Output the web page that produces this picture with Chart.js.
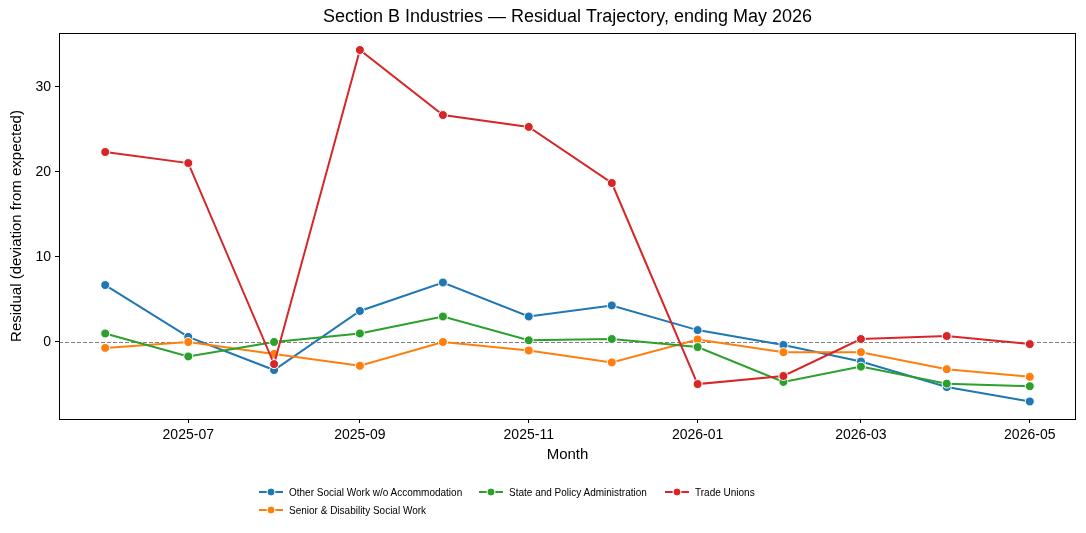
<!DOCTYPE html>
<html>
<head>
<meta charset="utf-8">
<script src="https://cdn.jsdelivr.net/npm/chart.js@4.4.1/dist/chart.umd.min.js"></script>
<style>
  body { margin: 0; background: #fff; font-family: "Liberation Sans", Arial, sans-serif; }
  #wrap { position: relative; width: 1086px; height: 533px; }
  #legend {
    position: absolute; left: 259px; top: 483px;
    display: grid; grid-template-columns: 220px 186px auto; grid-template-rows: 18px 18px;
    font-size: 10px; color: #000;
  }
  .item { display: flex; align-items: center; white-space: nowrap; }
  .item svg { margin-right: 6px; }
</style>
</head>
<body>
<div id="wrap">
  <canvas id="chart" width="1086" height="533"></canvas>
  <div id="legend"></div>
</div>
<script>
const MONTHS = ['2025-06', '2025-07', '2025-08', '2025-09', '2025-10', '2025-11',
  '2025-12', '2026-01', '2026-02', '2026-03', '2026-04', '2026-05'];
const X_TICKS = ['2025-07', '2025-09', '2025-11', '2026-01', '2026-03', '2026-05'];
const Y_TICKS = [0, 10, 20, 30];

const SERIES_NAMES = ['Other Social Work w/o Accommodation', 'Senior & Disability Social Work',
  'State and Policy Administration', 'Trade Unions'];
const COLORS = ['#1f77b4', '#ff7f0e', '#2ca02c', '#d62728'];
// legend slots [column, row], matplotlib ncol=3 fills column-wise
const LEGEND_SLOTS = [[1, 1], [1, 2], [2, 1], [3, 1]];

const otherSocial = [6.7, 0.6, -3.3, 3.65, 7.0, 3.0, 4.3, 1.4, -0.35, -2.3, -5.3, -7.0];
const seniorDisability = [-0.7, 0.0, -1.4, -2.8, 0.0, -1.0, -2.4, 0.3, -1.2, -1.2, -3.2, -4.1];
const statePolicy = [1.0, -1.7, 0.0, 1.0, 3.0, 0.2, 0.35, -0.6, -4.7, -2.9, -4.9, -5.2];
const tradeUnions = [22.35, 21.05, -2.6, 34.35, 26.7, 25.3, 18.7, -4.95, -4.0, 0.35, 0.7, -0.25];
const SERIES = [otherSocial, seniorDisability, statePolicy, tradeUnions];

const DAY = 86400000;
function dayOf(ym) {
  const [y, m] = ym.split('-').map(Number);
  return Date.UTC(y, m - 1, 1) / DAY;
}
function labelOf(d) {
  const dt = new Date(Math.round(d) * DAY);
  return dt.getUTCFullYear() + '-' + String(dt.getUTCMonth() + 1).padStart(2, '0');
}

const xs = MONTHS.map(dayOf);
const span = xs[xs.length - 1] - xs[0];
const FONT = '"Liberation Sans", Arial, sans-serif';

const frame = {
  id: 'frame',
  beforeDatasetsDraw(chart) {
    const { ctx, chartArea: a, scales } = chart;
    const y0 = Math.round(scales.y.getPixelForValue(0)) + 0.5;
    ctx.save();
    ctx.strokeStyle = '#808080';
    ctx.lineWidth = 1;
    ctx.setLineDash([4, 2]);
    ctx.beginPath();
    ctx.moveTo(a.left, y0);
    ctx.lineTo(a.right, y0);
    ctx.stroke();
    ctx.restore();
  },
  afterDraw(chart) {
    const { ctx, chartArea: a } = chart;
    ctx.save();
    ctx.strokeStyle = '#000';
    ctx.lineWidth = 1;
    ctx.strokeRect(Math.round(a.left) + 0.5, Math.round(a.top) + 0.5,
      Math.round(a.right - a.left) - 1, Math.round(a.bottom - a.top));
    ctx.restore();
  }
};

new Chart(document.getElementById('chart'), {
  type: 'line',
  data: {
    datasets: SERIES.map((vals, i) => ({
      label: SERIES_NAMES[i],
      data: vals.map((v, j) => ({ x: xs[j], y: v })),
      borderColor: COLORS[i],
      backgroundColor: COLORS[i],
      pointBackgroundColor: COLORS[i],
      pointBorderColor: '#fff',
      pointBorderWidth: 1,
      pointRadius: 4.5,
      borderWidth: 2,
      tension: 0,
      order: SERIES.length - i
    }))
  },
  plugins: [frame],
  options: {
    responsive: false,
    animation: false,
    devicePixelRatio: 1,
    layout: { padding: { left: 0, right: 10, top: 0, bottom: 69 } },
    plugins: {
      legend: { display: false },
      tooltip: { enabled: false },
      title: {
        display: true,
        fullSize: false,
        text: 'Section B Industries — Residual Trajectory, ending May 2026',
        color: '#000',
        font: { family: FONT, size: 18, weight: 'normal', lineHeight: 1.2 },
        padding: { top: 6, bottom: 5.4 }
      }
    },
    scales: {
      x: {
        type: 'linear',
        min: xs[0] - span * 0.05,
        max: xs[xs.length - 1] + span * 0.05,
        afterBuildTicks(scale) { scale.ticks = X_TICKS.map(t => ({ value: dayOf(t) })); },
        afterFit(scale) { scale.height = 45; },
        ticks: {
          color: '#000', padding: 4, maxRotation: 0, autoSkip: false,
          font: { family: FONT, size: 14 },
          callback: v => labelOf(v)
        },
        grid: { drawOnChartArea: false, drawTicks: true, tickLength: 4, color: '#000' },
        border: { display: false },
        title: { display: true, text: 'Month', color: '#000',
          font: { family: FONT, size: 15 }, padding: { top: 0, bottom: 0 } }
      },
      y: {
        min: -9.06,
        max: 36.35,
        afterBuildTicks(scale) { scale.ticks = Y_TICKS.map(v => ({ value: v })); },
        afterFit(scale) { scale.width = 59; },
        ticks: { color: '#000', padding: 4, font: { family: FONT, size: 14 } },
        grid: { drawOnChartArea: false, drawTicks: true, tickLength: 4, color: '#000' },
        border: { display: false },
        title: { display: true, text: 'Residual (deviation from expected)', color: '#000',
          font: { family: FONT, size: 15 }, padding: { top: 8, bottom: 0 } }
      }
    }
  }
});

const legend = document.getElementById('legend');
SERIES_NAMES.forEach((name, i) => {
  const el = document.createElement('div');
  el.className = 'item';
  el.style.gridColumn = LEGEND_SLOTS[i][0];
  el.style.gridRow = LEGEND_SLOTS[i][1];
  el.innerHTML = '<svg width="24" height="10"><line x1="0" y1="5" x2="24" y2="5" stroke="' + COLORS[i] +
    '" stroke-width="2"/><circle cx="12" cy="5" r="4" fill="' + COLORS[i] + '" stroke="#fff" stroke-width="1"/></svg>' +
    '<span>' + name.replace('&', '&amp;') + '</span>';
  legend.appendChild(el);
});
</script>
</body>
</html>
